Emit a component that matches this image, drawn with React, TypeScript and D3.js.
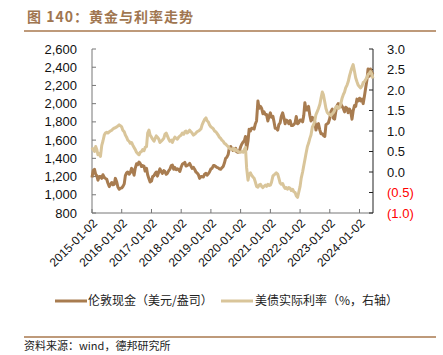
import React from "react";
import * as d3 from "d3";

const title = "图 140：黄金与利率走势";
const source = "资料来源：wind，德邦研究所";
const goldName = "伦敦现金（美元/盎司）";
const rateName = "美债实际利率（%，右轴）";

const yearTicks = ["2015-01-02","2016-01-02","2017-01-02","2018-01-02","2019-01-02","2020-01-02","2021-01-02","2022-01-02","2023-01-02","2024-01-02"];
const leftTicks = [800,1000,1200,1400,1600,1800,2000,2200,2400,2600];
const rightTicks = [-1,-0.5,0,0.5,1,1.5,2,2.5,3];

// semi-monthly observations (2nd and 16th of each month), 2015-01 .. 2024-06
const gold2015 = [1190,1265,1280,1225,1210,1160,1200,1200,1180,1220,1190,1180,1170,1130,1090,1115,1135,1110,1115,1180,1140,1085,1060,1070];
const gold2016 = [1075,1090,1120,1210,1240,1250,1225,1240,1290,1270,1215,1290,1340,1330,1360,1345,1310,1320,1315,1260,1290,1220,1175,1140];
const gold2017 = [1150,1200,1210,1235,1250,1205,1250,1285,1255,1235,1265,1255,1225,1235,1265,1280,1320,1325,1280,1300,1275,1285,1275,1255];
const gold2018 = [1305,1335,1345,1355,1315,1320,1330,1345,1315,1290,1300,1280,1250,1240,1220,1180,1200,1200,1195,1225,1235,1215,1230,1250];
const gold2019 = [1285,1290,1320,1320,1310,1300,1295,1285,1280,1295,1310,1345,1400,1410,1440,1510,1530,1505,1485,1490,1510,1470,1465,1475];
const gold2020 = [1525,1555,1580,1590,1640,1500,1590,1720,1700,1730,1730,1720,1780,1810,2030,1950,1970,1950,1890,1910,1880,1880,1810,1860];
const gold2021 = [1900,1850,1860,1800,1730,1730,1710,1770,1790,1860,1900,1850,1780,1820,1810,1780,1815,1760,1760,1770,1790,1860,1780,1790];
const gold2022 = [1820,1820,1800,1870,2010,1930,1930,1970,1870,1810,1850,1830,1800,1710,1770,1780,1710,1670,1670,1650,1640,1770,1780,1790];
const gold2023 = [1840,1915,1940,1840,1830,1910,1980,2000,1990,2000,1970,1950,1910,1960,1950,1900,1940,1915,1830,1920,1980,1970,2050,2030];
const gold2024 = [2060,2030,2050,2000,2080,2160,2260,2380,2300,2380,2340,2320];

const rate2015 = [0.60,0.55,0.50,0.62,0.55,0.42,0.45,0.38,0.65,0.75,0.90,0.95,0.97,0.95,0.98,1.00,1.02,1.05,1.07,1.08,1.10,1.12,1.15,1.13];
const rate2016 = [1.10,1.02,0.98,0.90,0.85,0.78,0.75,0.70,0.72,0.66,0.60,0.55,0.48,0.45,0.42,0.48,0.50,0.55,0.52,0.60,0.62,0.95,1.02,0.90];
const rate2017 = [0.85,0.80,0.75,0.82,0.88,0.85,0.80,0.72,0.75,0.78,0.82,0.92,0.95,0.88,0.80,0.75,0.78,0.72,0.80,0.85,0.82,0.80,0.85,0.88];
const rate2018 = [0.90,0.95,0.92,0.98,1.00,0.95,0.98,1.02,0.98,0.95,0.90,0.92,0.95,0.98,1.00,1.02,1.05,1.15,1.22,1.28,1.32,1.25,1.22,1.15];
const rate2019 = [1.10,1.08,1.05,1.00,0.98,0.95,0.90,0.85,0.82,0.78,0.75,0.70,0.68,0.65,0.62,0.58,0.56,0.55,0.58,0.52,0.55,0.52,0.50,0.48];
const rate2020 = [0.48,0.50,0.48,0.55,0.60,0.10,-0.20,-0.05,-0.02,-0.08,-0.12,-0.15,-0.25,-0.35,-0.37,-0.32,-0.30,-0.35,-0.38,-0.35,-0.32,-0.35,-0.30,-0.33];
const rate2021 = [-0.32,-0.25,-0.10,-0.07,-0.05,-0.02,-0.05,-0.15,-0.27,-0.30,-0.28,-0.35,-0.40,-0.38,-0.42,-0.38,-0.40,-0.45,-0.42,-0.48,-0.50,-0.58,-0.62,-0.50];
const rate2022 = [-0.35,-0.15,0.00,0.15,0.30,0.45,0.62,0.70,0.82,0.90,1.10,1.15,1.25,1.40,1.48,1.55,1.65,1.80,1.95,1.88,1.70,1.55,1.45,1.42];
const rate2023 = [1.40,1.38,1.42,1.45,1.50,1.58,1.60,1.55,1.57,1.65,1.80,1.88,1.95,2.05,2.12,2.20,2.35,2.45,2.55,2.62,2.45,2.30,2.20,2.12];
const rate2024 = [2.08,2.05,2.10,2.18,2.20,2.25,2.30,2.38,2.40,2.45,2.38,2.28];

const goldValues = [...gold2015,...gold2016,...gold2017,...gold2018,...gold2019,...gold2020,...gold2021,...gold2022,...gold2023,...gold2024];
const rateValues = [...rate2015,...rate2016,...rate2017,...rate2018,...rate2019,...rate2020,...rate2021,...rate2022,...rate2023,...rate2024];
const dates = goldValues.map((_, i) => new Date(2015 + Math.floor(i / 24), Math.floor((i % 24) / 2), i % 2 ? 16 : 2));

const parse = d3.timeParse("%Y-%m-%d");
const GOLD = "#a87c50";
const RATE = "#d9c59a";
const BROWN = "#a9794e";
const NUM_FONT = "'Liberation Sans', Arial, sans-serif";
const CJK_FONT = "'Noto Sans CJK SC', sans-serif";

export default function App() {
  const L = 92, R = 373, T = 49, B = 213;
  const x = d3.scaleTime().domain([new Date(2015, 0, 2), dates[dates.length - 1]]).range([L, R]);
  const yL = d3.scaleLinear().domain([800, 2600]).range([B, T]);
  const yR = d3.scaleLinear().domain([-1, 3]).range([B, T]);
  const goldLine = d3.line<number>().x((_, i) => x(dates[i])).y(d => yL(d));
  const rateLine = d3.line<number>().x((_, i) => x(dates[i])).y(d => yR(d));
  const fmtL = d3.format(",");
  const fmtR = (v: number) => (v < 0 ? `(${Math.abs(v).toFixed(1)})` : v.toFixed(1));

  return (
    <svg width={443} height={355} style={{ position: "absolute", left: 0, top: 0, background: "#fff" }}>
      <text x={27} y={22} fontFamily={CJK_FONT} fontWeight={700} fontSize={14} fill="#a07650" letterSpacing={1}>{title}</text>
      <line x1={24} x2={436} y1={31} y2={31} stroke={BROWN} strokeWidth={1.6} />

      {/* axes */}
      <line x1={L} x2={L} y1={T} y2={B} stroke="#777" strokeWidth={1} />
      <line x1={L} x2={R} y1={B} y2={B} stroke="#777" strokeWidth={1} />
      <line x1={R} x2={R} y1={T} y2={B} stroke="#222" strokeWidth={1} />
      {leftTicks.map(v => (
        <g key={"l" + v}>
          <line x1={L} x2={L + 4} y1={yL(v)} y2={yL(v)} stroke="#777" />
          <text x={77} y={yL(v)} dy="0.35em" textAnchor="end" fontFamily={NUM_FONT} fontSize={13} fill="#111">{fmtL(v)}</text>
        </g>
      ))}
      {rightTicks.map(v => (
        <g key={"r" + v}>
          <line x1={R - 4} x2={R} y1={yR(v)} y2={yR(v)} stroke="#222" />
          <text x={387} y={yR(v)} dy="0.35em" textAnchor="start" fontFamily={NUM_FONT} fontSize={13} fill={v < 0 ? "#ff0000" : "#111"}>{fmtR(v)}</text>
        </g>
      ))}
      {yearTicks.map(s => {
        const px = x(parse(s) as Date);
        return (
          <g key={s}>
            <line x1={px} x2={px} y1={B} y2={B - 4} stroke="#777" />
            <text transform={`translate(${px + 3},${B + 8}) rotate(-45)`} textAnchor="end" dy="0.35em" fontFamily={NUM_FONT} fontSize={12} fill="#111">{s}</text>
          </g>
        );
      })}

      {/* series */}
      <path d={goldLine(goldValues) || ""} fill="none" stroke={GOLD} strokeWidth={3} strokeLinejoin="round" />
      <path d={rateLine(rateValues) || ""} fill="none" stroke={RATE} strokeWidth={3} strokeLinejoin="round" />

      {/* legend */}
      <line x1={55} x2={87} y1={301} y2={301} stroke={GOLD} strokeWidth={3} />
      <text x={88} y={301} dy="0.35em" fontFamily={CJK_FONT} fontSize={12} fill="#222">{goldName}</text>
      <line x1={221} x2={253} y1={301} y2={301} stroke={RATE} strokeWidth={3} />
      <text x={255} y={301} dy="0.35em" fontFamily={CJK_FONT} fontSize={12} fill="#222">{rateName}</text>

      <line x1={24} x2={436} y1={337} y2={337} stroke={BROWN} strokeWidth={1.6} />
      <text x={24} y={350} fontFamily={CJK_FONT} fontSize={11} fill="#222">{source}</text>
    </svg>
  );
}
